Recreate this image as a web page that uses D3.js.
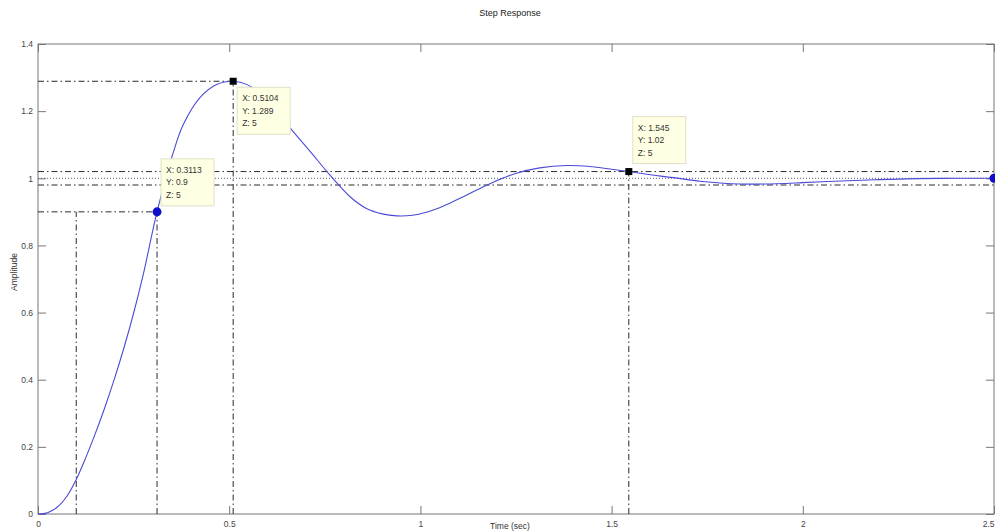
<!DOCTYPE html>
<html><head><meta charset="utf-8">
<script src="https://cdn.jsdelivr.net/npm/d3@7"></script>
<style>body{margin:0;background:#fff}svg{display:block}</style>
</head><body>
<svg id="c" width="995" height="532"></svg>
<script>
// ---- data ----
const times = [0,0.025,0.05,0.075,0.1,0.125,0.15,0.175,0.2,0.225,0.25,0.275,0.3113,0.354,0.38,0.4235,0.467,0.5104,0.547,0.6,0.659,0.711,0.763,0.816,0.859,0.9,0.938,0.98,1.016,1.05,1.077,1.129,1.182,1.251,1.312,1.382,1.443,1.504,1.545,1.591,1.661,1.731,1.792,1.835,1.9,2.0,2.1,2.2,2.3,2.4,2.5];
const amplitude = [0,0.004,0.02,0.052,0.103,0.168,0.24,0.318,0.403,0.496,0.598,0.712,0.9,1.078,1.16,1.24,1.279,1.289,1.279,1.232,1.150,1.081,1.010,0.945,0.910,0.894,0.888,0.890,0.899,0.912,0.926,0.955,0.984,1.015,1.031,1.038,1.035,1.026,1.02,1.012,1.002,0.991,0.985,0.983,0.983,0.987,0.992,0.996,0.999,1.0,1.0];
const xTicks = [0,0.5,1,1.5,2,2.5];
const xTickLabels = ["0","0.5","1","1.5","2","2.5"];
const yTicks = [0,0.2,0.4,0.6,0.8,1,1.2,1.4];
const yTickLabels = ["0","0.2","0.4","0.6","0.8","1","1.2","1.4"];
const riseStart = 0.1;
const riseTip = {x:0.3113, y:0.9, lines:["X: 0.3113","Y: 0.9","Z: 5"]};
const peakTip = {x:0.5104, y:1.289, lines:["X: 0.5104","Y: 1.289","Z: 5"]};
const settleTip = {x:1.545, y:1.02, lines:["X: 1.545","Y: 1.02","Z: 5"]};
const settleBand = [0.98, 1.02];
const steady = {x:2.5, y:1.0};
const titleText = "Step Response", xLabel = "Time (sec)", yLabel = "Amplitude";

// ---- layout ----
const L=38, R=994, T=44, B=514;
const svg = d3.select("#c");
const x = d3.scaleLinear().domain([0,2.5]).range([L,R]);
const y = d3.scaleLinear().domain([0,1.4]).range([B,T]);
const axisCol="#777", txtCol="#444", font="Liberation Sans, Arial, sans-serif";

// frame
svg.append("rect").attr("x",L).attr("y",T).attr("width",R-L).attr("height",B-T)
  .attr("fill","none").attr("stroke",axisCol).attr("stroke-width",1);

// axes with inward ticks
const xb = svg.append("g").attr("transform",`translate(0,${B})`)
  .call(d3.axisBottom(x).tickValues(xTicks).tickFormat((d,i)=>xTickLabels[i]).tickSizeInner(-8).tickSizeOuter(0).tickPadding(5));
const xt = svg.append("g").attr("transform",`translate(0,${T})`)
  .call(d3.axisTop(x).tickValues(xTicks).tickFormat("").tickSizeInner(-8).tickSizeOuter(0));
const yl = svg.append("g").attr("transform",`translate(${L},0)`)
  .call(d3.axisLeft(y).tickValues(yTicks).tickFormat((d,i)=>yTickLabels[i]).tickSizeInner(-8).tickSizeOuter(0).tickPadding(5));
const yr = svg.append("g").attr("transform",`translate(${R},0)`)
  .call(d3.axisRight(y).tickValues(yTicks).tickFormat("").tickSizeInner(-8).tickSizeOuter(0));
[xb,xt,yl,yr].forEach(g=>{
  g.select(".domain").remove();
  g.selectAll("line").attr("stroke",axisCol);
  g.selectAll("text").attr("fill",txtCol).style("font-family",font).style("font-size","8.5px");
});
xb.selectAll("text").attr("dy","0.9em");
// keep last x label inside the window
xb.selectAll(".tick").filter(d=>d===xTicks[xTicks.length-1]).select("text")
  .attr("text-anchor","end").attr("x",0);

// reference lines
const dashDot="6,3,1.5,3";
const ref = svg.append("g").attr("stroke-width",1).attr("fill","none");
function seg(x1,y1,x2,y2,dash,col){
  ref.append("line").attr("x1",x(x1)).attr("y1",y(y1)).attr("x2",x(x2)).attr("y2",y(y2))
    .attr("stroke-dasharray",dash).attr("stroke",col||"#2a2a2a");
}
seg(0,riseTip.y,riseTip.x,riseTip.y,dashDot);
seg(riseStart,0,riseStart,riseTip.y,dashDot);
seg(riseTip.x,0,riseTip.x,riseTip.y,dashDot);
seg(0,peakTip.y,peakTip.x,peakTip.y,dashDot);
seg(peakTip.x,0,peakTip.x,peakTip.y,dashDot);
seg(settleTip.x,0,settleTip.x,settleTip.y,dashDot);
settleBand.forEach(v=>seg(0,v,2.5,v,dashDot));
seg(0,steady.y,2.5,steady.y,"1,2","#5a5a7a");

// response curve
const data = times.map((t,i)=>[t,amplitude[i]]);
svg.append("path").datum(data)
  .attr("d",d3.line().x(d=>x(d[0])).y(d=>y(d[1])).curve(d3.curveCatmullRom.alpha(0.5)))
  .attr("fill","none").attr("stroke","#4a4ad8").attr("stroke-width",1.1);

// markers
svg.append("circle").attr("cx",x(riseTip.x)).attr("cy",y(riseTip.y)).attr("r",4.5).attr("fill","#1010c8");
svg.append("circle").attr("cx",x(steady.x)).attr("cy",y(steady.y)).attr("r",4.5).attr("fill","#1010c8");
[peakTip,settleTip].forEach(p=>{
  svg.append("rect").attr("x",x(p.x)-3.5).attr("y",y(p.y)-3.5).attr("width",7).attr("height",7).attr("fill","#000");
});

// data tips
function tip(p,dx,dy,above){
  const w=53, h=47;
  const bx=x(p.x)+dx, by= above ? y(p.y)-dy-h : y(p.y)+dy;
  const g=svg.append("g");
  g.append("rect").attr("x",bx).attr("y",by).attr("width",w).attr("height",h)
    .attr("fill","#ffffe4").attr("stroke","#e0e0c8").attr("stroke-width",1);
  p.lines.forEach((s,i)=>{
    g.append("text").attr("x",bx+5).attr("y",by+14+i*12.5).text(s)
      .attr("fill","#333").style("font-family",font).style("font-size","8.5px");
  });
}
tip(riseTip,4,6,true);
tip(peakTip,4,6,false);
tip(settleTip,4,8,true);

// titles
svg.append("text").attr("x",510).attr("y",16).attr("text-anchor","middle").text(titleText)
  .attr("fill","#222").style("font-family",font).style("font-size","9px");
svg.append("text").attr("x",510).attr("y",529).attr("text-anchor","middle").text(xLabel)
  .attr("fill","#333").style("font-family",font).style("font-size","8.5px");
svg.append("text").attr("transform","translate(17,272) rotate(-90)").attr("text-anchor","middle").text(yLabel)
  .attr("fill","#333").style("font-family",font).style("font-size","8.5px");
</script>
</body></html>
